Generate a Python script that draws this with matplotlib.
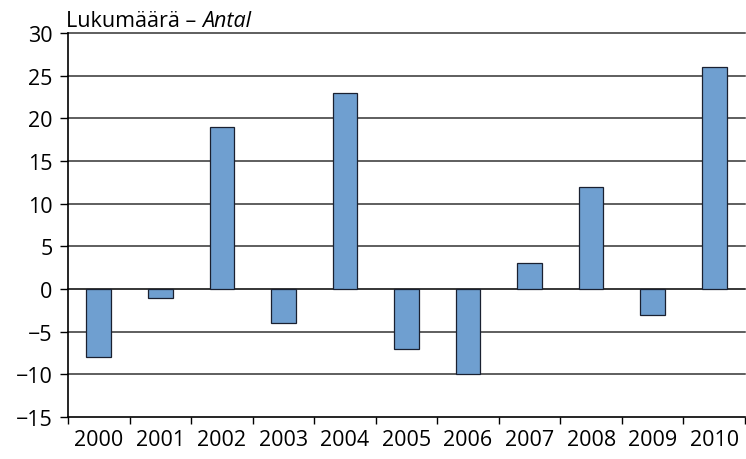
import matplotlib
matplotlib.use("Agg")
import matplotlib.pyplot as plt
import numpy as np

years = ["2000", "2001", "2002", "2003", "2004", "2005", "2006", "2007", "2008", "2009", "2010"]
values = [-8, -1, 19, -4, 23, -7, -10, 3, 12, -3, 26]
yticks = [-15, -10, -5, 0, 5, 10, 15, 20, 25, 30]

plt.rcParams['font.family'] = ['Open Sans', 'DejaVu Sans']

fig = plt.figure(figsize=(7.46, 4.6), dpi=100)
ax = fig.add_axes([68/746, 42/460, (745-68)/746, (418-34)/460])

x = np.arange(len(years))
ax.set_axisbelow(True)
for yv in yticks[1:]:
    ax.axhline(yv, color='#000000' if yv == 0 else '#333333', lw=1.1, zorder=0, clip_on=False)
ax.bar(x, values, width=0.4, color='#6f9fd0', edgecolor='#1a2030', linewidth=0.9, zorder=2)

ax.set_xlim(-0.5, len(years) - 0.5)
ax.set_ylim(-15, 30)
ax.set_yticks(yticks)
ax.set_yticklabels([str(v).replace('-', '\u2212') for v in yticks], fontsize=15.5)
ax.set_xticks(np.arange(len(years) + 1) - 0.5)
ax.set_xticklabels([])
ax.set_xticks(x, minor=True)
ax.set_xticklabels(years, minor=True, fontsize=15.5)
ax.tick_params(axis='x', which='major', length=5, direction='out', width=1)
ax.tick_params(axis='x', which='minor', length=0, pad=9)
ax.tick_params(axis='y', length=6, direction='out', width=1, pad=5)

for s in ['top', 'right']:
    ax.spines[s].set_visible(False)
ax.spines['left'].set_linewidth(1.2)
ax.spines['bottom'].set_linewidth(1.2)

t = fig.text(66/746, 1 - 32/460, "Lukumäärä \u2013 ", fontsize=15.5, ha='left', va='bottom')
ax.annotate("Antal", xy=(1, 0), xycoords=t, fontsize=15.5, style='italic', ha='left', va='bottom')

fig.savefig("out.png", dpi=100)
